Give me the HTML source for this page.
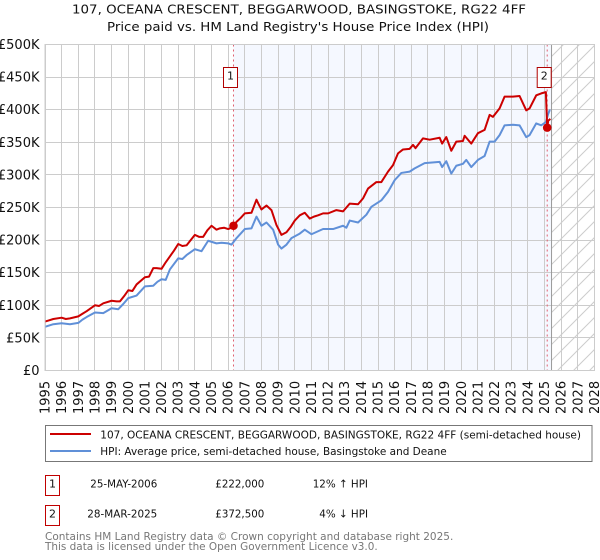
<!DOCTYPE html>
<html>
<head>
<meta charset="utf-8">
<title>Price paid vs HPI</title>
<style>
html,body{margin:0;padding:0;background:#fff;width:600px;height:560px;overflow:hidden}
svg{display:block}
text{font-family:"DejaVu Sans","Liberation Sans",sans-serif;fill:#111}
</style>
</head>
<body>
<svg id="chart" xmlns="http://www.w3.org/2000/svg" width="600" height="560" viewBox="0 0 600 560">
<defs>
<pattern id="hatch" patternUnits="userSpaceOnUse" width="16" height="16">
<path d="M-2 18L18 -2M-2 2L2 -2M14 18L18 14" stroke="#ccc" stroke-width="1" fill="none"/>
</pattern>
</defs>
<rect width="600" height="560" fill="#fff"/>
<text x="72" y="13.5" font-size="12.5" textLength="454" lengthAdjust="spacingAndGlyphs">107, OCEANA CRESCENT, BEGGARWOOD, BASINGSTOKE, RG22 4FF</text>
<text x="107" y="31" font-size="12.5" textLength="382" lengthAdjust="spacingAndGlyphs">Price paid vs. HM Land Registry's House Price Index (HPI)</text>
<g id="plot"></g>

<rect x="45.5" y="425.5" width="546.5" height="36" fill="#fff" stroke="#777" stroke-width="1"/>
<line x1="50" x2="91" y1="434" y2="434" stroke="#cc0000" stroke-width="2"/>
<line x1="50" x2="91" y1="451" y2="451" stroke="#6090d8" stroke-width="2"/>
<text x="100.3" y="438.5" font-size="11" textLength="480.7" lengthAdjust="spacingAndGlyphs">107, OCEANA CRESCENT, BEGGARWOOD, BASINGSTOKE, RG22 4FF (semi-detached house)</text>
<text x="100.3" y="455" font-size="11" textLength="346.4" lengthAdjust="spacingAndGlyphs">HPI: Average price, semi-detached house, Basingstoke and Deane</text>

<rect x="45.5" y="475.5" width="14" height="20" fill="#fff" stroke="#c00000" stroke-width="1"/>
<text x="52.5" y="487.3" font-size="11" text-anchor="middle">1</text>
<text x="90.3" y="487.5" font-size="11" textLength="67" lengthAdjust="spacingAndGlyphs">25-MAY-2006</text>
<text x="215.3" y="487.5" font-size="11" textLength="49" lengthAdjust="spacingAndGlyphs">£222,000</text>
<text x="312.7" y="487.5" font-size="11" textLength="55.3" lengthAdjust="spacingAndGlyphs">12% ↑ HPI</text>

<rect x="45.5" y="505.5" width="14" height="20" fill="#fff" stroke="#c00000" stroke-width="1"/>
<text x="52.5" y="517.3" font-size="11" text-anchor="middle">2</text>
<text x="87.3" y="517.5" font-size="11" textLength="70" lengthAdjust="spacingAndGlyphs">28-MAR-2025</text>
<text x="215.3" y="517.5" font-size="11" textLength="49" lengthAdjust="spacingAndGlyphs">£372,500</text>
<text x="319.3" y="517.5" font-size="11" textLength="48.7" lengthAdjust="spacingAndGlyphs">4% ↓ HPI</text>

<text x="45" y="540" font-size="11" style="fill:#777" textLength="408.3" lengthAdjust="spacingAndGlyphs">Contains HM Land Registry data © Crown copyright and database right 2025.</text>
<text x="45" y="550" font-size="11" style="fill:#777" textLength="332.7" lengthAdjust="spacingAndGlyphs">This data is licensed under the Open Government Licence v3.0.</text>
</svg>
<script>
var yearTicks = [1995,1996,1997,1998,1999,2000,2001,2002,2003,2004,2005,2006,2007,2008,2009,2010,2011,2012,2013,2014,2015,2016,2017,2018,2019,2020,2021,2022,2023,2024,2025,2026,2027,2028];
var valueTicks = [0,50,100,150,200,250,300,350,400,450,500];
var valueTickLabels = ['£0','£50K','£100K','£150K','£200K','£250K','£300K','£350K','£400K','£450K','£500K'];

var priceDates = [1995,1995.25,1995.5,1996,1996.25,1996.5,1997,1997.25,1997.5,1998,1998.25,1998.5,1999,1999.3,1999.5,1999.75,2000,2000.25,2000.5,2001,2001.25,2001.5,2001.7,2002,2002.25,2002.5,2002.75,2003,2003.25,2003.5,2003.75,2004,2004.25,2004.5,2004.75,2005,2005.3,2005.5,2005.75,2006,2006.2,2006.5,2006.75,2007,2007.4,2007.55,2007.7,2007.85,2008,2008.3,2008.6,2008.9,2009.2,2009.5,2009.75,2010,2010.3,2010.6,2010.9,2011.15,2011.4,2011.7,2012,2012.5,2012.9,2013.3,2013.8,2014.1,2014.4,2014.9,2015.2,2015.6,2015.9,2016.2,2016.5,2016.9,2017.1,2017.25,2017.7,2018.1,2018.7,2018.85,2019.1,2019.4,2019.7,2020.1,2020.2,2020.6,2021,2021.4,2021.7,2021.9,2022.3,2022.6,2023.1,2023.5,2023.9,2024.1,2024.5,2024.8,2025.08,2025.16,2025.22,2025.35];
var priceValues = [75,77,79,81,79,80,83,87,91,100,99,103,107,106,106,114,123,122,132,143,144,157,157,156,166,175,184,194,191,192,200,208,205,205,215,222,216,218,219,217,219,228,234,241,242,252,262,254,247,253,246,223,208,212,220,230,238,242,233,236,238,241,241,246,244,256,255,264,279,289,289,305,315,333,339,340,346,341,356,354,357,348,358,337,351,352,360,348,364,369,392,389,402,420,420,421,399,402,422,425,427,372.5,383,386];

var hpiDates = [1995,1995.5,1996,1996.5,1997,1997.25,1997.5,1998,1998.5,1999,1999.4,1999.7,2000,2000.5,2001,2001.5,2001.75,2002,2002.25,2002.5,2003,2003.25,2003.5,2004,2004.4,2004.8,2005.3,2005.6,2006,2006.2,2006.5,2007,2007.4,2007.7,2008,2008.3,2008.7,2009,2009.2,2009.5,2009.8,2010.3,2010.6,2011,2011.7,2012.3,2012.9,2013.1,2013.3,2013.8,2014.3,2014.6,2015.2,2015.6,2016,2016.4,2016.9,2017.2,2017.8,2018.7,2018.85,2019.1,2019.4,2019.7,2020.1,2020.3,2020.6,2021,2021.4,2021.7,2022,2022.3,2022.6,2023.1,2023.5,2023.9,2024.1,2024.5,2024.8,2025.08,2025.2,2025.3,2025.36];
var hpiValues = [67,71,72.5,71,73,78,82,89,88,95.5,94,102,111,115,129,130,136,140,139,155,172,171,177,186,183,199,195,196,195,193,203,217,218,236,222,227,216,193,187,193,203,210,216,209,217,217,222,219,230,227,239,251,261,274,292,303,305,310,318,320,312,321,302,314,317,323,312,323,329,351,351,361,376,377,376,358,361,379,376,381,392,399,399];

var saleDates = [2006.32,2025.16];
var salePrices = [222,372.5];
var saleNumbers = ['1','2'];
var forecastStart = [2025.42];

var NS = 'http://www.w3.org/2000/svg';
var plot = document.getElementById('plot');
var L = 45, R = 594.5, T = 44.5, B = 370.5;
var xMin = yearTicks[0], xMax = yearTicks[yearTicks.length - 1];
var vMax = valueTicks[valueTicks.length - 1];
function xScale(d){ return L + (d - xMin) * (R - L) / (xMax - xMin); }
function yScale(v){ return B - v * (B - T) / vMax; }
function make(tag, attrs, parent){
  var e = document.createElementNS(NS, tag);
  for (var k in attrs) e.setAttribute(k, attrs[k]);
  (parent || plot).appendChild(e);
  return e;
}
var shade = make('rect', {x:xScale(saleDates[0]), y:T, width:xScale(forecastStart[0]) - xScale(saleDates[0]), height:B - T, fill:'#f5f8ff'});


var hatch = make('rect', {x:xScale(forecastStart[0]), y:T, width:R - xScale(forecastStart[0]), height:B - T, fill:'url(#hatch)'});



yearTicks.forEach(function(y){
  var px = Math.round(xScale(y) - 0.5) + 0.5;
  var g = make('line', {x1:px, x2:px, y1:T, y2:B, stroke:'#ccc', 'stroke-width':1});
  
  
  var t = make('text', {transform:'translate(' + (xScale(y) + 4.5) + ',414) rotate(-90)', 'font-size':13});
  
  
  t.textContent = y;
});
valueTicks.forEach(function(v, i){
  var py = Math.round(yScale(v) - 0.5) + 0.5;
  var g = make('line', {x1:L, x2:R, y1:py, y2:py, stroke:'#ccc', 'stroke-width':1});
  
  
  var t = make('text', {x:39.5, y:yScale(v) + 4.5, 'font-size':13, 'text-anchor':'end'});
  
  
  t.textContent = valueTickLabels[i];
});
var fl = make('line', {x1:xScale(forecastStart[0]), x2:xScale(forecastStart[0]), y1:T, y2:B, stroke:'#999', 'stroke-width':1});



saleDates.forEach(function(d){
  var v = make('line', {x1:xScale(d), x2:xScale(d), y1:T, y2:B, stroke:'#e06070', 'stroke-width':1, 'stroke-dasharray':'2 3'});
  
  
});
function linePath(ds, vs){
  return ds.map(function(d, i){ return (i ? 'L' : 'M') + xScale(d).toFixed(2) + ' ' + yScale(vs[i]).toFixed(2); }).join('');
}
var hpiLine = make('path', {d:linePath(hpiDates, hpiValues), fill:'none', stroke:'#6090d8', 'stroke-width':2, 'stroke-linejoin':'round'});


var priceLine = make('path', {d:linePath(priceDates, priceValues), fill:'none', stroke:'#cc0000', 'stroke-width':2, 'stroke-linejoin':'round'});



saleDates.forEach(function(d, i){
  var c = make('circle', {cx:xScale(d), cy:yScale(salePrices[i]), r:4.3, fill:'#cc0000'});
  
  
  var b = make('rect', {x:xScale(d) - 10, y:67.5, width:14, height:20, fill:'#fff', stroke:'#b00000', 'stroke-width':1});
  
  
  var t = make('text', {x:xScale(d) - 3, y:79.3, 'font-size':11, 'text-anchor':'middle'});
  
  
  t.textContent = saleNumbers[i];
});
var frame = make('rect', {x:L, y:T, width:R - L, height:B - T, fill:'none', stroke:'#ccc', 'stroke-width':1});


</script>
</body>
</html>
